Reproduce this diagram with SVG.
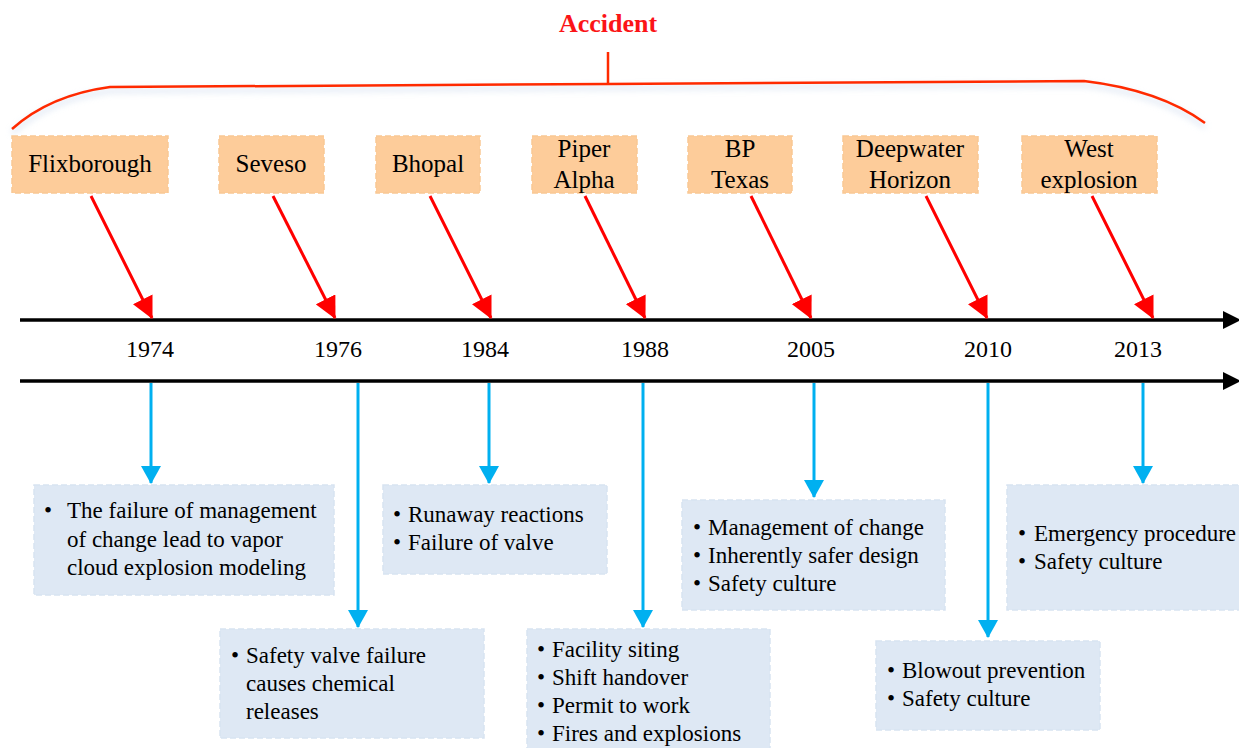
<svg xmlns="http://www.w3.org/2000/svg" width="1239" height="748" viewBox="0 0 1239 748">
<style>
  text { font-family: "Liberation Serif", "Times New Roman", serif; fill: #000; }
  .acc { fill: #FB1417; font-weight: bold; font-size: 26px; text-anchor: middle; }
  .lbl { font-size: 25px; text-anchor: middle; }
  .yr { font-size: 24px; text-anchor: middle; }
  .it { font-size: 23px; }
  .ob { fill: #FDCC9A; stroke: #F9C894; stroke-width: 1.5; stroke-dasharray: 6 3; }
  .bb { fill: #DEE8F4; stroke: #D8E3F1; stroke-width: 1.5; stroke-dasharray: 6 3; }
  .red { stroke: #FF0000; stroke-width: 3; fill: none; }
  .blue { stroke: #00B0F0; stroke-width: 3; fill: none; }
  .axis { stroke: #000; stroke-width: 3.5; fill: none; }
</style>
<defs>
  <marker id="ar" viewBox="0 0 20 20" refX="19" refY="10" markerWidth="22" markerHeight="22" markerUnits="userSpaceOnUse" orient="auto">
    <path d="M0,0 L20,10 L0,20 z" fill="#FF0000"/>
  </marker>
  <marker id="ab" viewBox="0 0 18 20" refX="17" refY="10" markerWidth="18" markerHeight="20" markerUnits="userSpaceOnUse" orient="auto">
    <path d="M0,0 L18,10 L0,20 z" fill="#00B0F0"/>
  </marker>
  <filter id="sh" x="-5%" y="-50%" width="110%" height="200%">
    <feGaussianBlur stdDeviation="3"/>
  </filter>
</defs>

<g id="bracket">
  <path d="M12,129 Q50,95 110,87 L608,84 L1084,81 Q1160,90 1205,123" fill="none" stroke="#C9D8EC" stroke-width="4" opacity="0.6" filter="url(#sh)" transform="translate(0,4)"/>
  <path d="M12,129 Q50,95 110,87 L608,84 L1084,81 Q1160,90 1205,123" fill="none" stroke="#FF2A00" stroke-width="2.5"/>
  <line x1="608" y1="52" x2="608" y2="85" stroke="#FF2A00" stroke-width="2.5"/>
  <text class="acc" x="608" y="32">Accident</text>
</g>

<g id="axes">
  <line class="axis" x1="20" y1="320" x2="1226" y2="320"/>
  <polygon points="1223,311 1241,320 1223,329" fill="#000"/>
  <line class="axis" x1="20" y1="381" x2="1226" y2="381"/>
  <polygon points="1223,372 1241,381 1223,390" fill="#000"/>
</g>

<g id="connectors">
  <line class="red" x1="91" y1="196" x2="152" y2="318" marker-end="url(#ar)"/>
  <line class="red" x1="273" y1="196" x2="335" y2="318" marker-end="url(#ar)"/>
  <line class="red" x1="430" y1="196" x2="491" y2="318" marker-end="url(#ar)"/>
  <line class="red" x1="585" y1="196" x2="645" y2="318" marker-end="url(#ar)"/>
  <line class="red" x1="751" y1="196" x2="811" y2="318" marker-end="url(#ar)"/>
  <line class="red" x1="926" y1="196" x2="987" y2="318" marker-end="url(#ar)"/>
  <line class="red" x1="1092" y1="196" x2="1153" y2="318" marker-end="url(#ar)"/>

  <line class="blue" x1="151" y1="383" x2="151" y2="483" marker-end="url(#ab)"/>
  <line class="blue" x1="358" y1="383" x2="358" y2="627" marker-end="url(#ab)"/>
  <line class="blue" x1="489" y1="383" x2="489" y2="483" marker-end="url(#ab)"/>
  <line class="blue" x1="643" y1="383" x2="643" y2="627" marker-end="url(#ab)"/>
  <line class="blue" x1="814" y1="383" x2="814" y2="497" marker-end="url(#ab)"/>
  <line class="blue" x1="988" y1="383" x2="988" y2="637" marker-end="url(#ab)"/>
  <line class="blue" x1="1143" y1="383" x2="1143" y2="483" marker-end="url(#ab)"/>
</g>

<g id="years">
  <text class="yr" x="150" y="357">1974</text>
  <text class="yr" x="338" y="357">1976</text>
  <text class="yr" x="485" y="357">1984</text>
  <text class="yr" x="645" y="357">1988</text>
  <text class="yr" x="811" y="357">2005</text>
  <text class="yr" x="988" y="357">2010</text>
  <text class="yr" x="1138" y="357">2013</text>
</g>

<g id="flixborough">
  <rect class="ob" x="12" y="136" width="156" height="57"/>
  <text class="lbl" x="90" y="172">Flixborough</text>
</g>
<g id="seveso">
  <rect class="ob" x="219" y="136" width="105" height="57"/>
  <text class="lbl" x="271" y="172">Seveso</text>
</g>
<g id="bhopal">
  <rect class="ob" x="376" y="136" width="104" height="57"/>
  <text class="lbl" x="428" y="172">Bhopal</text>
</g>
<g id="piper-alpha">
  <rect class="ob" x="532" y="136" width="105" height="57"/>
  <text class="lbl" x="584" y="157">Piper</text>
  <text class="lbl" x="584" y="188">Alpha</text>
</g>
<g id="bp-texas">
  <rect class="ob" x="688" y="136" width="104" height="57"/>
  <text class="lbl" x="740" y="157">BP</text>
  <text class="lbl" x="740" y="188">Texas</text>
</g>
<g id="deepwater-horizon">
  <rect class="ob" x="843" y="136" width="135" height="57"/>
  <text class="lbl" x="910" y="157">Deepwater</text>
  <text class="lbl" x="910" y="188">Horizon</text>
</g>
<g id="west-explosion">
  <rect class="ob" x="1022" y="136" width="135" height="57"/>
  <text class="lbl" x="1089" y="157">West</text>
  <text class="lbl" x="1089" y="188">explosion</text>
</g>

<g id="box-1974">
  <rect class="bb" x="34" y="485" width="300" height="110"/>
  <text class="it" x="44" y="518">•</text>
  <text class="it" x="67" y="518">The failure of management</text>
  <text class="it" x="67" y="547">of change lead to vapor</text>
  <text class="it" x="67" y="575">cloud explosion modeling</text>
</g>
<g id="box-1976">
  <rect class="bb" x="220" y="629" width="264" height="109"/>
  <text class="it" x="231" y="663">•</text>
  <text class="it" x="246" y="663">Safety valve failure</text>
  <text class="it" x="246" y="691">causes chemical</text>
  <text class="it" x="246" y="719">releases</text>
</g>
<g id="box-1984">
  <rect class="bb" x="383" y="485" width="224" height="89"/>
  <text class="it" x="393" y="522">•</text>
  <text class="it" x="408" y="522">Runaway reactions</text>
  <text class="it" x="393" y="550">•</text>
  <text class="it" x="408" y="550">Failure of valve</text>
</g>
<g id="box-1988">
  <rect class="bb" x="527" y="629" width="243" height="125"/>
  <text class="it" x="537" y="657">•</text>
  <text class="it" x="552" y="657">Facility siting</text>
  <text class="it" x="537" y="685">•</text>
  <text class="it" x="552" y="685">Shift handover</text>
  <text class="it" x="537" y="713">•</text>
  <text class="it" x="552" y="713">Permit to work</text>
  <text class="it" x="537" y="741">•</text>
  <text class="it" x="552" y="741">Fires and explosions</text>
</g>
<g id="box-2005">
  <rect class="bb" x="682" y="500" width="263" height="110"/>
  <text class="it" x="693" y="535">•</text>
  <text class="it" x="708" y="535">Management of change</text>
  <text class="it" x="693" y="563">•</text>
  <text class="it" x="708" y="563">Inherently safer design</text>
  <text class="it" x="693" y="591">•</text>
  <text class="it" x="708" y="591">Safety culture</text>
</g>
<g id="box-2010">
  <rect class="bb" x="876" y="641" width="224" height="89"/>
  <text class="it" x="887" y="678">•</text>
  <text class="it" x="902" y="678">Blowout prevention</text>
  <text class="it" x="887" y="706">•</text>
  <text class="it" x="902" y="706">Safety culture</text>
</g>
<g id="box-2013">
  <rect class="bb" x="1007" y="485" width="240" height="125"/>
  <text class="it" x="1018" y="541">•</text>
  <text class="it" x="1034" y="541">Emergency procedure</text>
  <text class="it" x="1018" y="569">•</text>
  <text class="it" x="1034" y="569">Safety culture</text>
</g>
</svg>
